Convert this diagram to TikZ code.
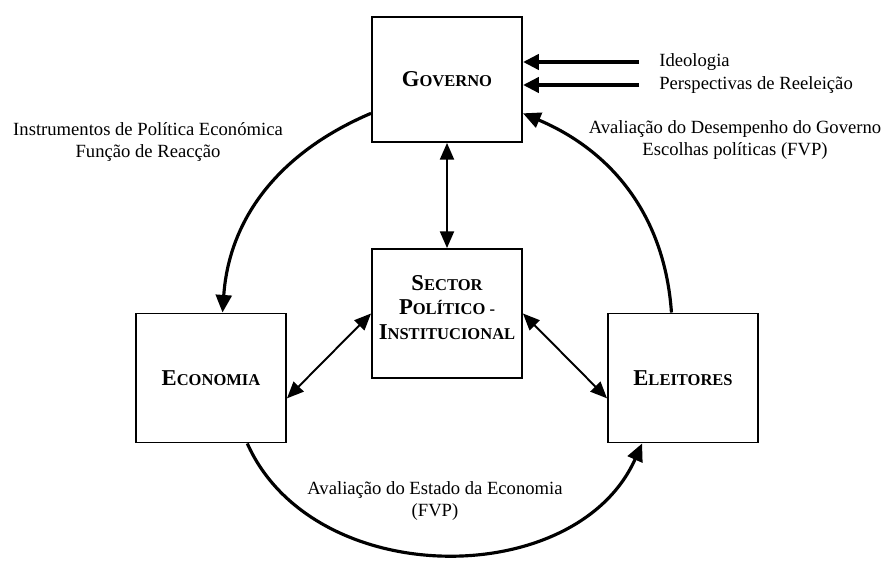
\documentclass[tikz,border=0pt]{standalone}
\usepackage{fontspec}
\setmainfont{Liberation Serif}
\usepackage{tikz}
\usetikzlibrary{arrows.meta,positioning}

% large first letter, small capitals for the rest
\newcommand{\capsc}[2]{{\fontsize{12.9}{14}\selectfont #1}{\fontsize{9.4}{14}\selectfont #2}}
\newcommand{\lblfont}{\fontsize{10.6}{12.5}\selectfont}

\begin{document}
\begin{tikzpicture}[
  node distance=0.4cm,
  box/.style={rectangle, draw=black, line width=1.1pt, minimum width=3cm, minimum height=2.58cm, align=center, font=\bfseries\fontsize{12.9}{14}\selectfont, inner sep=2pt},
  lbl/.style={align=center, font=\lblfont, inner sep=0pt},
  flow/.style={-{Triangle[length=10pt,width=9pt]}, line width=1.8pt},
  link/.style={{Triangle[length=9.5pt,width=8pt]}-{Triangle[length=9.5pt,width=8pt]}, line width=1.1pt},
  push/.style={-{Triangle[length=9pt,width=8.5pt]}, line width=2.3pt},
]
\useasboundingbox (0,0) rectangle (17.7,11.4);

% Boxes
\node[box, minimum height=2.5cm] (governo) at (8.94,9.81) {\capsc{G}{OVERNO}};
\node[box] (sector) at (8.94,5.13) {\capsc{S}{ECTOR}\\ \capsc{P}{OLÍTICO -}\\ \capsc{I}{NSTITUCIONAL}\\[-7pt]\mbox{}};
\node[box] (economia) at (4.22,3.84) {\capsc{E}{CONOMIA}};
\node[box] (eleitores) at (13.66,3.84) {\capsc{E}{LEITORES}};

% Outside influences on the government
\coordinate (ideo) at (12.78,10.16);
\coordinate (reel) at (12.78,9.70);
\node[lbl, right=of ideo] (ideolbl) {Ideologia};
\node[lbl, right=of reel] (reellbl) {Perspectivas de Reeleição};
\draw[push] (ideo) -- (ideo -| governo.east);
\draw[push] (reel) -- (reel -| governo.east);

% Cycle
\draw[flow] (governo.204) to[out=203,in=86] (economia.80);
\draw[flow] (economia.-61) to[out=-66,in=-114,looseness=1.05] (eleitores.-122);
\draw[flow] (eleitores.100) to[out=94,in=-23] (governo.-24);

% Links with the institutional sector
\draw[link] (governo) -- (sector);
\draw[link] (sector.west) -- (economia.-15);
\draw[link] (sector.east) -- (eleitores.195);

% Labels
\node[lbl] (instr) at (2.96,8.56) {Instrumentos de Política Económica\\Função de Reacção};
\node[lbl] (aval) at (14.7,8.6) {Avaliação do Desempenho do Governo\\Escolhas políticas (FVP)};
\node[lbl] (estado) at (8.7,1.38) {Avaliação do Estado da Economia\\(FVP)};

\end{tikzpicture}
\end{document}
